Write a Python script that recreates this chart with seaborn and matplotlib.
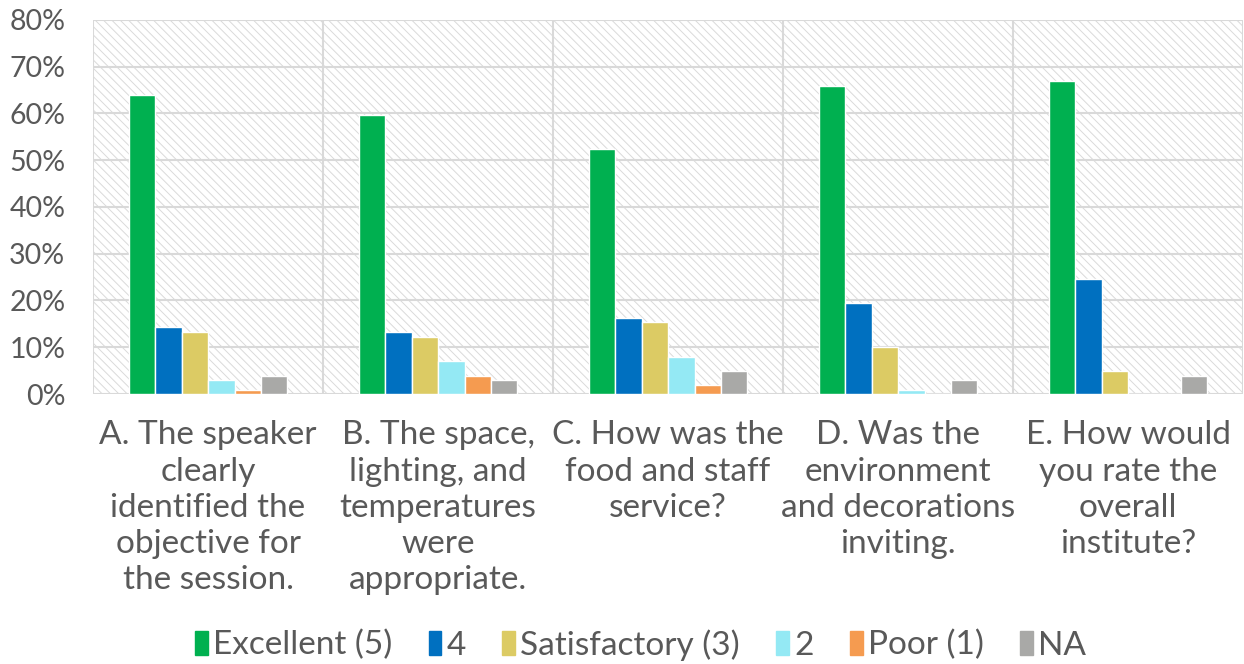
import matplotlib
matplotlib.use("Agg")
import matplotlib.pyplot as plt
import matplotlib.patches as mpatches
import numpy as np
import pandas as pd
import seaborn as sns

QUESTIONS = [
    "A. The speaker\nclearly\nidentified the\nobjective for\nthe session.",
    "B. The space,\nlighting, and\ntemperatures\nwere\nappropriate.",
    "C. How was the\nfood and staff\nservice?",
    "D. Was the\nenvironment\nand decorations\ninviting.",
    "E. How would\nyou rate the\noverall\ninstitute?",
]
RATINGS = ["Excellent (5)", "4", "Satisfactory (3)", "2", "Poor (1)", "NA"]

# percent of responses, one list per rating (A..E)
excellent = [64.0, 59.7, 52.5, 65.9, 66.9]
four = [14.3, 13.2, 16.3, 19.4, 24.6]
satisfactory = [13.2, 12.3, 15.3, 10.1, 5.0]
two = [2.9, 7.0, 8.0, 0.9, 0.0]
poor = [0.9, 3.9, 1.9, 0.0, 0.0]
na = [3.9, 2.9, 5.0, 2.9, 3.9]

COLORS = ["#00b050", "#0070c0", "#dccb64", "#94e9f4", "#f59b50", "#a9a9a7"]
TEXT = "#595959"
GRID = "#d9d9d9"

series = [excellent, four, satisfactory, two, poor, na]
df = pd.DataFrame(
    [(q, r, v) for r, vals in zip(RATINGS, series) for q, v in zip(QUESTIONS, vals)],
    columns=["question", "rating", "pct"],
)

sns.set_style("white")
plt.rcParams["font.family"] = ["Lato", "DejaVu Sans"]
plt.rcParams["hatch.linewidth"] = 0.7
plt.rcParams["hatch.color"] = "#dadada"

fig = plt.figure(figsize=(12.44, 6.64), dpi=100)
ax = fig.add_axes([0.0748, 0.4066, 0.9245, 0.5634])

ax.add_patch(mpatches.Rectangle((0, 0), 1, 1, transform=ax.transAxes,
                                facecolor="white", edgecolor="#dadada",
                                hatch="\\\\\\\\", lw=0, zorder=0))

sns.barplot(data=df, x="question", y="pct", hue="rating", hue_order=RATINGS,
            order=QUESTIONS, palette=COLORS, width=0.69, gap=0,
            saturation=1, legend=False, ax=ax, zorder=2)

ax.set_ylim(0, 80)
ax.set_xlim(-0.5, len(QUESTIONS) - 0.5)
ax.set_yticks(np.arange(0, 81, 10))
ax.set_yticklabels([f"{v}%" for v in range(0, 81, 10)])
ax.set_xticks(np.arange(-0.5, len(QUESTIONS), 1), minor=True)
ax.set_axisbelow(True)
ax.grid(axis="y", color=GRID, lw=1.5, zorder=1)
ax.grid(axis="x", which="minor", color=GRID, lw=1.5, zorder=1)
ax.grid(axis="x", which="major", visible=False)
for s in ax.spines.values():
    s.set_visible(False)
ax.tick_params(axis="y", length=0, pad=20, labelsize=20.5, labelcolor=TEXT)
ax.tick_params(axis="x", which="both", length=0, pad=19, labelsize=24, labelcolor=TEXT)
for lbl in ax.get_xticklabels():
    lbl.set_linespacing(1.26)
ax.set_xlabel("")
ax.set_ylabel("")

handles = [mpatches.Patch(color=c, label=r) for c, r in zip(COLORS, RATINGS)]
fig.legend(handles=handles, loc="lower center", bbox_to_anchor=(0.515, -0.04),
           ncol=6, frameon=False, fontsize=24, labelcolor=TEXT,
           handlelength=0.38, handleheight=0.75, handletextpad=0.15,
           columnspacing=1.1)

fig.savefig("out.png", dpi=100)
